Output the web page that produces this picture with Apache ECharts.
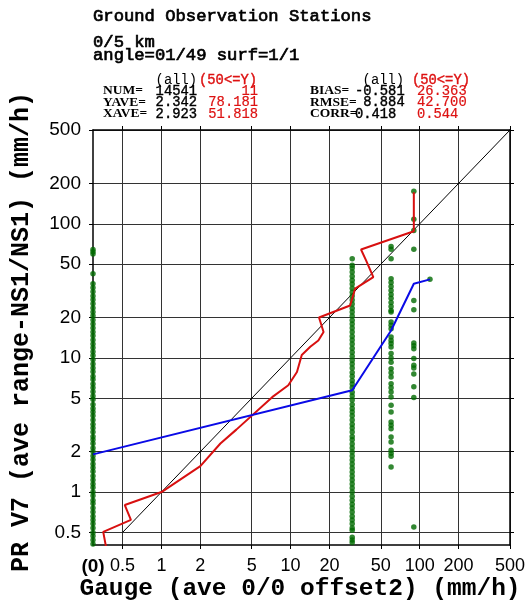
<!DOCTYPE html>
<html>
<head>
<meta charset="utf-8">
<script src="https://cdn.jsdelivr.net/npm/echarts@6/dist/echarts.min.js"></script>
<style>
  html, body { margin: 0; padding: 0; background: #fff; }
  #chart { width: 531px; height: 601px; }
</style>
</head>
<body>
<div id="chart"></div>
<script>
// log axes; a gauge value of 0 is drawn on the left edge, labelled "(0)"
const X_MIN = 0.295, X_MAX = 500;
const Y_MIN = 0.403, Y_MAX = 500;
const xTicks = [0.5, 1, 2, 5, 10, 20, 50, 100, 200, 500];
const yTicks = [0.5, 1, 2, 5, 10, 20, 50, 100, 200, 500];

// gauge classes and the PR values read for each column of points
const gaugeCols = [0, 30, 60, 90, 120];
const col0Y = [64.3, 61.8, 59.4, 42.4, 35.7, 33.3, 31.1, 29.0, 27.1, 25.3, 23.6, 22.0, 20.6, 19.2, 17.9, 16.7, 15.6, 14.6,
  13.6, 12.7, 11.9, 11.1, 10.4, 9.7, 9.0, 8.4, 7.9, 7.3, 6.9, 6.4, 6.0, 5.6, 5.2, 4.9, 4.5, 4.2, 3.95, 3.7, 3.45, 3.2,
  3.0, 2.8, 2.6, 2.45, 2.3, 2.13, 2.0, 1.86, 1.74, 1.62, 1.52, 1.42, 1.32, 1.23, 1.15, 1.08, 1.0, 0.94, 0.87, 0.82,
  0.76, 0.71, 0.66, 0.62, 0.58, 0.54, 0.5, 0.47, 0.44, 0.41];
const col30Y = [54.9, 49.0, 46.7, 43.6, 40.7, 38.0, 35.5, 33.1, 30.9, 28.9, 27.0, 25.2, 23.5, 22.0, 20.5, 19.1, 17.9,
  16.7, 15.6, 14.5, 13.6, 12.7, 11.8, 11.0, 10.3, 9.6, 9.0, 8.4, 7.8, 7.3, 6.8, 6.4, 6.0, 5.55, 5.2, 4.85, 4.5, 4.2,
  3.95, 3.7, 3.45, 3.2, 3.0, 2.8, 2.6, 2.45, 2.28, 2.13, 1.99, 1.86, 1.73, 1.62, 1.51, 1.41, 1.32, 1.23, 1.15, 1.07,
  1.0, 0.93, 0.87, 0.81, 0.76, 0.71, 0.66, 0.62, 0.58, 0.54, 0.52, 0.46, 0.44, 0.42];
const col60Y = [67.8, 64.5, 54.9, 38.9, 36.5, 34.1, 31.8, 29.7, 27.8, 25.9, 24.2, 22.6, 22.0, 18.5, 17.5, 16.5, 14.3,
  13.5, 12.8, 12.05, 10.8, 10.0, 9.3, 8.3, 7.74, 7.2, 6.43, 5.98, 5.57, 5.11, 4.43, 3.95, 3.33, 3.15, 2.97, 2.57,
  2.36, 2.05, 1.95, 1.85, 1.54];
const col90Y = [175, 108, 89, 64.5, 26.8, 22.9, 12.9, 12.3, 11.7, 9.9, 8.8, 8.4, 7.6, 6.1, 5.06, 0.55];
const col120Y = [38.5];

// red curve
const redX = [0.38, 0.354, 0.58, 0.52, 1.0, 2.0, 2.86, 3.8, 7.2, 9.6, 11.2, 12.2, 14.2, 16.4, 18.0, 16.6, 28.9,
  31.6, 43.7, 38.4, 35.1, 90, 90];
const redY = [0.35, 0.505, 0.62, 0.80, 1.0, 1.56, 2.3, 2.92, 5.1, 6.25, 7.85, 10.5, 12.1, 13.5, 15.6, 20.0, 24.6,
  32.8, 40.0, 53.3, 64.3, 88, 172];
// blue curve
const blueX = [0, 30, 60, 90, 120];
const blueY = [1.91, 5.74, 16.0, 35.7, 38.5];
// 1:1 line
const diagX = [0.5, 500];
const diagY = [0.5, 500];

// statistics block
const statNamesL = ["NUM=", "YAVE=", "XAVE="];
const statAllL = ["14541", "2.342", "2.923"];
const statY50L = ["11", "78.181", "51.818"];
const statNamesR = ["BIAS=", "RMSE=", "CORR="];
const statAllR = ["-0.581", " 8.884", "0.418"];
const statY50R = ["26.363", "42.700", "0.544"];

const chart = echarts.init(document.getElementById("chart"));

const zeroAt = (x) => (x === 0 ? X_MIN : x);
const pairs = (xs, ys) => xs.map((x, i) => [zeroAt(x), ys[i]]);
const colYs = [col0Y, col30Y, col60Y, col90Y, col120Y];
const scatterData = [];
gaugeCols.forEach((g, i) => colYs[i].forEach((y) => scatterData.push([zeroAt(g), y])));

const num = (v) => String(Number(v.toPrecision(6)));
const MONO = "Liberation Mono";
const SANS = "Liberation Sans";
const RED = "#dd1111";

// text graphics for the header (regular mono, thickened a little with a stroke)
const graphics = [];
const txt = (text, x, y, opts) => {
  const st = Object.assign({ text: text, fill: "#000", font: "17.2px " + MONO, textAlign: "left", textVerticalAlign: "middle" }, opts || {});
  if (st.lineWidth === undefined) { st.stroke = st.fill; st.lineWidth = 0.7; }
  graphics.push({ type: "text", x: x, y: y, silent: true, style: st });
};
txt("Ground Observation Stations", 93, 16.5);
txt("0/5 km", 93, 42);
txt("angle=01/49 surf=1/1", 93, 55);

const numFont = "13.8px " + MONO;
const labFont = "bold 13.5px 'Liberation Serif'";
const thin = { lineWidth: 0.4 };
txt("(all)", 197, 80, { font: numFont, textAlign: "right", ...thin });
txt("(50<=Y)", 257, 80, { font: numFont, textAlign: "right", fill: RED, stroke: RED, ...thin });
txt("(all)", 404, 80, { font: numFont, textAlign: "right", ...thin });
txt("(50<=Y)", 412, 80, { font: numFont, fill: RED, stroke: RED, ...thin });
const rowY = [91, 102.5, 114];
rowY.forEach((y, i) => {
  txt(statNamesL[i], 103, y, { font: labFont, lineWidth: 0 });
  txt(statAllL[i], 197, y, { font: numFont, textAlign: "right", stroke: "#000", ...thin });
  txt(statY50L[i], 258, y, { font: numFont, textAlign: "right", fill: RED, stroke: RED, lineWidth: 0.2 });
  txt(statNamesR[i], 310, y, { font: labFont, lineWidth: 0 });
  txt(statAllR[i], 355, y, { font: numFont, stroke: "#000", ...thin });
  txt(statY50R[i], 417, y, { font: numFont, fill: RED, stroke: RED, lineWidth: 0.2 });
});
// axis titles
txt("Gauge (ave 0/0 offset2) (mm/h)", 300, 589, { font: "bold 24.5px " + MONO, textAlign: "center", lineWidth: 0 });
graphics.push({
  type: "text", x: 22, y: 332, rotation: Math.PI / 2, silent: true,
  style: { text: "PR V7 (ave range-NS1/NS1) (mm/h)", fill: "#000", font: "bold 25px " + MONO, textAlign: "center", textVerticalAlign: "middle" }
});

const frame = { show: true, onZero: false, lineStyle: { color: "#000", width: 1.5 } };
const grid = { show: true, lineStyle: { color: "#333", width: 1 } };

chart.setOption({
  animation: false,
  backgroundColor: "#fff",
  grid: { left: 93, right: 21, top: 130, bottom: 56, containLabel: false, outerBoundsMode: "none" },
  xAxis: [
    {
      type: "log", logBase: 10, min: X_MIN, max: X_MAX, position: "bottom",
      axisLine: frame,
      axisTick: { show: true, length: 4, customValues: xTicks, lineStyle: { color: "#000" } },
      axisLabel: {
        customValues: [X_MIN].concat(xTicks), margin: 12, color: "#000", fontSize: 18, fontFamily: SANS,
        formatter: (v) => (Math.abs(v - X_MIN) < 1e-4 ? "{z|(0)}" : num(v)),
        rich: { z: { fontSize: 19, fontWeight: "bold", fontFamily: SANS, color: "#000" } }
      },
      splitLine: grid,
      minorTick: { show: false }, minorSplitLine: { show: false }
    },
    {
      type: "log", logBase: 10, min: X_MIN, max: X_MAX, position: "top",
      axisLine: frame,
      axisTick: { show: true, length: 4, customValues: xTicks, lineStyle: { color: "#000" } },
      axisLabel: { show: false },
      splitLine: { show: false }
    }
  ],
  yAxis: [
    {
      type: "log", logBase: 10, min: Y_MIN, max: Y_MAX, position: "left",
      axisLine: frame,
      axisTick: { show: true, length: 4, customValues: yTicks, lineStyle: { color: "#000" } },
      axisLabel: { customValues: yTicks, margin: 12, color: "#000", fontSize: 19, fontFamily: SANS, formatter: (v) => num(v) },
      splitLine: grid,
      minorTick: { show: false }, minorSplitLine: { show: false }
    },
    {
      type: "log", logBase: 10, min: Y_MIN, max: Y_MAX, position: "right",
      axisLine: frame,
      axisTick: { show: true, length: 4, customValues: yTicks, lineStyle: { color: "#000" } },
      axisLabel: { show: false },
      splitLine: { show: false }
    }
  ],
  series: [
    {
      type: "line", data: pairs(diagX, diagY), symbol: "none", silent: true, z: 2,
      lineStyle: { color: "#000", width: 1 }
    },
    {
      type: "scatter", data: scatterData, symbol: "circle", symbolSize: 5.5, clip: false, z: 3,
      itemStyle: { color: "#006a00" }
    },
    {
      type: "line", data: pairs(redX, redY), symbol: "none", z: 4,
      lineStyle: { color: "#d81010", width: 2 }
    },
    {
      type: "line", data: pairs(blueX, blueY), symbol: "none", z: 5,
      lineStyle: { color: "#0a0ae6", width: 2 }
    }
  ],
  graphic: graphics
});
</script>
</body>
</html>
